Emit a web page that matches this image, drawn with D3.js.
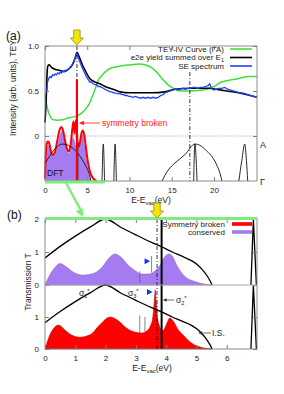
<!DOCTYPE html>
<html><head><meta charset="utf-8">
<script src="https://cdn.jsdelivr.net/npm/d3@7"></script>
<style>body{margin:0;background:#fff}svg{display:block}</style>
</head><body><svg id="c" width="284" height="394"></svg>
<script>
// ---------------- DATA ----------------
// panel (a)
const aTicksX = [0, 5, 10, 15, 20];
const aTicksY = [0, 0.5, 1.0];
const aTickYLabels = ["0", "0.5", "1.0"];
const teyCurve = [[0,0.46],[0.25,0.32],[0.6,0.22],[0.95,0.18],[1.5,0.175],[2.1,0.18],[2.7,0.2],[3.3,0.21],[3.9,0.23],[4.4,0.26],[4.9,0.31],[5.3,0.37],[5.6,0.44],[5.9,0.51],[6.3,0.62],[6.7,0.67],[7.1,0.71],[7.7,0.75],[8.5,0.77],[10,0.79],[11.2,0.8],[12.2,0.78],[13.0,0.73],[13.4,0.69],[13.85,0.64],[14.7,0.56],[15.4,0.52],[16.2,0.5],[17,0.5],[18.6,0.51],[19.8,0.54],[20.9,0.6],[22.5,0.63],[24.1,0.66],[25.1,0.66]];
const e2eCurve = [[0,0.15],[0.12,0.35],[0.25,0.7],[0.35,0.78],[0.5,0.79],[0.8,0.76],[1.2,0.74],[1.7,0.73],[2.2,0.72],[2.6,0.73],[3.0,0.76],[3.3,0.8],[3.55,0.86],[3.8,0.93],[4.0,0.89],[4.3,0.82],[4.8,0.72],[5.3,0.64],[5.9,0.6],[6.5,0.58],[7.1,0.55],[7.7,0.53],[8.3,0.51],[8.9,0.49],[10,0.48],[11.2,0.48],[12.7,0.48],[14.2,0.49],[15.4,0.52],[17.3,0.53],[19.3,0.53],[20.9,0.51],[22.9,0.48],[25.1,0.43]];
const seCurve = [[0.22,0.5],[0.3,0.6],[0.45,0.64],[0.6,0.66],[0.75,0.65],[0.9,0.68],[1.05,0.67],[1.2,0.69],[1.35,0.68],[1.5,0.7],[1.65,0.69],[1.8,0.71],[1.95,0.7],[2.1,0.72],[2.25,0.71],[2.4,0.73],[2.55,0.72],[2.7,0.74],[2.85,0.75],[3.0,0.77],[3.15,0.78],[3.3,0.81],[3.45,0.84],[3.6,0.88],[3.75,0.92],[3.85,0.91],[3.95,0.87],[4.1,0.83],[4.3,0.78],[4.5,0.74],[4.7,0.7],[4.9,0.66],[5.1,0.63],[5.3,0.6],[5.5,0.6],[5.7,0.58],[5.9,0.57],[6.1,0.57],[6.3,0.55],[6.5,0.55],[6.7,0.54],[6.9,0.53],[7.1,0.52],[7.3,0.51],[7.5,0.5],[7.7,0.49],[7.9,0.49],[8.1,0.48],[8.3,0.48],[8.5,0.47],[8.7,0.47],[8.9,0.47],[9.1,0.46],[9.3,0.46],[9.5,0.45],[9.7,0.45],[9.9,0.44],[10.1,0.44],[10.4,0.43],[10.7,0.44],[11.0,0.43],[11.3,0.42],[11.6,0.43],[11.9,0.42],[12.2,0.43],[12.5,0.42],[12.8,0.43],[13.1,0.42],[13.4,0.43],[13.7,0.45],[14.0,0.46],[14.2,0.48],[14.5,0.49],[14.8,0.5],[15.1,0.51],[15.4,0.52],[15.7,0.51],[16.0,0.52],[16.3,0.53],[16.6,0.52],[16.9,0.53],[17.2,0.53],[17.5,0.54],[17.8,0.54],[18.1,0.53],[18.4,0.54],[18.7,0.54],[19.0,0.55],[19.3,0.56],[19.5,0.58],[19.7,0.53],[20.0,0.51],[20.3,0.52],[20.6,0.53],[20.9,0.53],[21.3,0.54],[21.6,0.52],[22.0,0.51],[22.3,0.5],[22.7,0.49],[23.0,0.48],[23.3,0.48],[23.7,0.47],[24.0,0.46],[24.4,0.45],[24.7,0.44],[25.1,0.43]];
const dftPurple = [[0,0],[0.08,0.5],[0.25,0.75],[0.4,0.8],[0.6,0.7],[0.85,0.58],[1.15,0.58],[1.4,0.72],[1.65,0.95],[1.9,1.1],[2.1,1.13],[2.35,0.95],[2.6,0.72],[2.85,0.62],[3.05,0.72],[3.3,0.98],[3.5,0.9],[3.7,0.75],[3.9,0.72],[4.1,0.9],[4.35,1.05],[4.55,1.0],[4.75,0.75],[4.95,0.45],[5.15,0.2],[5.35,0.05],[5.5,0]];
const dftRed = [[0,0.05],[0.08,0.55],[0.2,0.82],[0.35,0.88],[0.5,0.84],[0.7,0.66],[0.9,0.58],[1.15,0.62],[1.4,0.84],[1.65,1.08],[1.9,1.2],[2.1,1.15],[2.35,0.92],[2.6,0.72],[2.85,0.66],[3.05,0.82],[3.25,1.18],[3.38,1.32],[3.5,1.05],[3.62,1.28],[3.72,1.36],[3.85,0.85],[4.0,0.76],[4.15,0.88],[4.35,1.08],[4.5,1.12],[4.7,0.96],[4.9,0.66],[5.1,0.4],[5.3,0.22],[5.55,0.1],[5.8,0.04],[6.1,0]];
const bandLinesA = [
  [[0,0.47],[2.1,1.0],[4.9,0.38],[5.25,0.18],[5.45,0]],
  [[6.75,0],[6.9,1.0],[7.05,0]],
  [[8.15,0],[8.3,1.0],[8.45,0]],
  [[13.85,0],[14.6,0.3],[15.4,0.49],[16.6,0.72],[17.75,1.0],[18.3,0.97],[19.2,0.8],[19.8,0.65],[20.4,0.4],[20.7,0.22],[20.95,0]],
  [[17.6,0],[17.75,1.0],[18.0,0]],
  [[22.95,0],[23.3,0.55],[23.65,1.0],[23.85,0.55],[24.0,0]]
];
const bandVertA = [[3.85,0],[3.85,0.97]];
const peakE = 3.78;       // symmetry broken / arrow energy
const peakE2 = 17.15;     // second dash-dot
const legendA = ["TEY-IV Curve (\u0393\u0304A)", "e2e yield summed over E", "SE spectrum"];
const legendAColors = ["#3fe03a", "#000", "#2040ff"];

// panel (b)
const bTicksX = [0, 1, 2, 3, 4, 5, 6];
const bTicksYUp = [0, 1, 2];
const bTicksYLow = [0, 1];
const consT = [[0,0],[0.1,0.2],[0.3,0.5],[0.5,0.65],[0.7,0.55],[0.95,0.38],[1.25,0.3],[1.6,0.35],[1.9,0.55],[2.1,0.8],[2.3,0.94],[2.5,0.85],[2.75,0.6],[3.0,0.42],[3.2,0.33],[3.4,0.33],[3.6,0.4],[3.8,0.6],[3.95,0.85],[4.1,0.94],[4.2,0.88],[4.35,0.6],[4.5,0.38],[4.7,0.2],[4.9,0.12],[5.1,0.06],[5.3,0.02],[5.5,0]];
const brokT = [[0,0],[0.1,0.3],[0.25,0.6],[0.45,0.75],[0.65,0.6],[0.85,0.45],[1.15,0.37],[1.5,0.45],[1.8,0.75],[2.15,1.0],[2.4,0.9],[2.7,0.65],[3.0,0.52],[3.2,0.5],[3.35,0.56],[3.48,0.72],[3.56,1.0],[3.61,1.5],[3.64,1.85],[3.67,1.5],[3.71,1.0],[3.76,0.78],[3.83,0.62],[3.9,0.58],[4.0,0.75],[4.12,0.97],[4.25,0.85],[4.4,0.6],[4.55,0.45],[4.7,0.3],[4.85,0.18],[5.0,0.1],[5.2,0.04],[5.5,0]];
const isBand = [[0,0.82],[0.5,1.17],[1.0,1.48],[1.5,1.76],[2.0,2.0],[2.5,1.75],[3.0,1.52],[3.5,1.3],[3.85,1.16],[4.2,1.0],[4.5,0.88],[4.85,0.73],[5.05,0.6],[5.2,0.46],[5.35,0.28],[5.45,0.13],[5.52,0]];
const bandB = [[6.8,0],[6.88,2],[6.98,0]];
const spikesUp = [[3.13,0.06,0.41],[3.52,0.38,0.88]];
const spikesLow = [[3.13,0.5,1.05],[3.3,0.55,1.0]];
const markerUp = [3.37, 0.72];
const markerLow = [3.45, 1.78];
const thickLineE = 3.85;
const dashE_B = 3.7;
const legendB = ["Symmetry broken", "conserved"];
const legendBColors = ["#ff0000", "#a57bf2"];

// ---------------- DRAW ----------------
const FONT = '"Liberation Sans", Arial, Helvetica, sans-serif';
const svg = d3.select("#c").style("font-family", FONT);
svg.append("rect").attr("width", 284).attr("height", 394).attr("fill", "#fff");

const xA = d3.scaleLinear().domain([0, 25.1]).range([45, 257]);
const yA = d3.scaleLinear().domain([0, 1]).range([136, 46]);
const yD = d3.scaleLinear().domain([0, 1]).range([181, 136]);
const yK = d3.scaleLinear().domain([0, 1]).range([181, 144]);
const xB = d3.scaleLinear().domain([0, 7]).range([45, 257]);
const yB1 = d3.scaleLinear().domain([0, 2]).range([285, 219]);
const yB2 = d3.scaleLinear().domain([0, 2]).range([349, 285]);

const FR = "#808080";
const TXT = "#222";
const intFmt = d3.format("d");

function styleAxis(g) {
  g.select(".domain").remove();
  g.selectAll(".tick line").attr("stroke", FR);
  g.selectAll(".tick text").attr("fill", TXT).attr("font-size", 8).attr("font-family", FONT);
}

// ---- panel (a) ----
svg.append("line").attr("x1", xA(0)).attr("x2", xA(25.1)).attr("y1", yA(0)).attr("y2", yA(0))
  .attr("stroke", "#888").attr("stroke-width", 0.8).attr("stroke-dasharray", "1,1.5");

svg.append("path").datum(dftPurple)
  .attr("d", d3.area().x(d => xA(d[0])).y0(yD(0)).y1(d => yD(d[1])).curve(d3.curveMonotoneX))
  .attr("fill", "#a57bf2");
svg.append("path").datum(dftRed)
  .attr("d", d3.line().x(d => xA(d[0])).y(d => yD(d[1])).curve(d3.curveMonotoneX))
  .attr("fill", "none").attr("stroke", "#ff0000").attr("stroke-width", 2);

bandLinesA.forEach(b => {
  svg.append("path").datum(b)
    .attr("d", d3.line().x(d => xA(d[0])).y(d => yK(d[1])).curve(d3.curveMonotoneX))
    .attr("fill", "none").attr("stroke", "#111").attr("stroke-width", 0.9);
});
svg.append("path").datum(bandVertA)
  .attr("d", d3.line().x(d => xA(d[0])).y(d => yK(d[1])))
  .attr("stroke", "#111").attr("stroke-width", 1.5);

svg.append("path").datum(teyCurve).attr("d", d3.line().x(d => xA(d[0])).y(d => yA(d[1])).curve(d3.curveMonotoneX)).attr("fill", "none").attr("stroke", "#3fe03a").attr("stroke-width", 1.5);
svg.append("path").datum(e2eCurve).attr("d", d3.line().x(d => xA(d[0])).y(d => yA(d[1])).curve(d3.curveMonotoneX)).attr("fill", "none").attr("stroke", "#000").attr("stroke-width", 1.6);
svg.append("path").datum(seCurve).attr("d", d3.line().x(d => xA(d[0])).y(d => yA(d[1]))).attr("fill", "none").attr("stroke", "#2040ff").attr("stroke-width", 1.3);

svg.append("line").attr("x1", xA(peakE)).attr("x2", xA(peakE)).attr("y1", yA(1)).attr("y2", yK(0))
  .attr("stroke", "#000").attr("stroke-width", 0.8).attr("stroke-dasharray", "4,2,1,2");
svg.append("line").attr("x1", xA(peakE2)).attr("x2", xA(peakE2)).attr("y1", yA(0.71)).attr("y2", yK(0))
  .attr("stroke", "#000").attr("stroke-width", 0.8).attr("stroke-dasharray", "4,2,1,2");
svg.append("line").attr("x1", xA(peakE)).attr("x2", xA(peakE)).attr("y1", yA(0.63)).attr("y2", yK(0))
  .attr("stroke", "#ff0000").attr("stroke-width", 2.2);

svg.append("g").attr("transform", `translate(0,${yK(0)})`)
  .call(d3.axisBottom(xA).tickValues(aTicksX).tickFormat(intFmt).tickSizeInner(-4).tickSizeOuter(0).tickPadding(6)).call(styleAxis);
svg.append("g").attr("transform", `translate(0,${yA(1)})`)
  .call(d3.axisTop(xA).tickValues(aTicksX).tickFormat("").tickSizeInner(-4).tickSizeOuter(0)).call(styleAxis);
svg.append("g").attr("transform", `translate(${xA(0)},0)`)
  .call(d3.axisLeft(yA).tickValues(aTicksY).tickFormat((d, i) => aTickYLabels[i]).tickSizeInner(-4).tickSizeOuter(0).tickPadding(6)).call(styleAxis);
svg.append("g").attr("transform", `translate(${xA(25.1)},0)`)
  .call(d3.axisRight(yA).tickValues(aTicksY).tickFormat("").tickSizeInner(-4).tickSizeOuter(0)).call(styleAxis);
svg.append("rect").attr("x", xA(0)).attr("y", yA(1)).attr("width", xA(25.1) - xA(0)).attr("height", yK(0) - yA(1))
  .attr("fill", "none").attr("stroke", FR).attr("stroke-width", 0.9);

legendA.forEach((t, i) => {
  const y = 49 + i * 8.5;
  const tx = svg.append("text").attr("x", 224).attr("y", y + 2.8).attr("text-anchor", "end")
    .attr("font-size", 8).attr("fill", TXT).text(t);
  if (i === 1) tx.append("tspan").attr("font-size", 5.5).attr("dy", 1.8).text("1");
  svg.append("line").attr("x1", 230).attr("x2", 252).attr("y1", y).attr("y2", y)
    .attr("stroke", legendAColors[i]).attr("stroke-width", 1.6);
});

svg.append("text").attr("x", 6).attr("y", 40).attr("font-size", 12).attr("fill", "#111").text("(a)");
svg.append("text").attr("transform", "translate(16,88) rotate(-90)").attr("text-anchor", "middle")
  .attr("font-size", 8.5).attr("fill", TXT).text("Intensity (arb. units), TEY");
const xlabA = svg.append("text").attr("x", 151).attr("y", 203).attr("text-anchor", "middle").attr("font-size", 8.5).attr("fill", TXT);
xlabA.append("tspan").text("E-E");
xlabA.append("tspan").attr("font-size", 6).attr("dy", 2).text("vac");
xlabA.append("tspan").attr("dy", -2).text("(eV)");
svg.append("text").attr("x", 260).attr("y", 148).attr("font-size", 9).attr("fill", TXT).text("A");
svg.append("text").attr("x", 260).attr("y", 185).attr("font-size", 9).attr("fill", TXT).text("\u0393");
svg.append("text").attr("x", 47).attr("y", 176).attr("font-size", 8.5).attr("fill", "#111").text("DFT");

svg.append("text").attr("x", 102).attr("y", 126).attr("font-size", 8.5).attr("fill", "#ff2020").text("symmetry broken");
svg.append("line").attr("x1", xA(peakE) + 3).attr("x2", 100).attr("y1", 123).attr("y2", 123).attr("stroke", "#ff2020").attr("stroke-width", 0.8);
svg.append("path").attr("d", d3.line()([[xA(peakE) + 2, 123], [xA(peakE) + 7, 120.8], [xA(peakE) + 7, 125.2]]) + "Z").attr("fill", "#ff2020");

function yellowArrow(cx, tipY) {
  const p = d3.path();
  p.moveTo(cx - 3.2, tipY - 15); p.lineTo(cx + 3.2, tipY - 15); p.lineTo(cx + 3.2, tipY - 7);
  p.lineTo(cx + 6.5, tipY - 7); p.lineTo(cx, tipY); p.lineTo(cx - 6.5, tipY - 7); p.lineTo(cx - 3.2, tipY - 7); p.closePath();
  svg.append("path").attr("d", p.toString()).attr("fill", "#f5e60a").attr("stroke", "#8a7d00").attr("stroke-width", 0.7);
}

svg.append("line").attr("x1", xA(0)).attr("x2", xA(7.1)).attr("y1", yK(0) + 1).attr("y2", yK(0) + 1)
  .attr("stroke", "#80ec80").attr("stroke-width", 3);

// ---- panel (b) ----
svg.append("path").datum(consT)
  .attr("d", d3.area().x(d => xB(d[0])).y0(yB1(0)).y1(d => yB1(d[1])).curve(d3.curveMonotoneX))
  .attr("fill", "#a57bf2").attr("stroke", "#7a5aa8").attr("stroke-width", 0.5);
svg.append("path").datum(brokT)
  .attr("d", d3.area().x(d => xB(d[0])).y0(yB2(0)).y1(d => yB2(d[1])).curve(d3.curveMonotoneX))
  .attr("fill", "#ff0000").attr("stroke", "#c00000").attr("stroke-width", 0.5);
spikesUp.forEach(s => svg.append("line").attr("x1", xB(s[0])).attr("x2", xB(s[0])).attr("y1", yB1(s[1])).attr("y2", yB1(s[2])).attr("stroke", "#666").attr("stroke-width", 0.8));
spikesLow.forEach(s => svg.append("line").attr("x1", xB(s[0])).attr("x2", xB(s[0])).attr("y1", yB2(s[1])).attr("y2", yB2(s[2])).attr("stroke", "#666").attr("stroke-width", 0.8));

[yB1, yB2].forEach(ys => {
  svg.append("path").datum(isBand)
    .attr("d", d3.line().x(d => xB(d[0])).y(d => ys(d[1])).curve(d3.curveMonotoneX))
    .attr("fill", "none").attr("stroke", "#000").attr("stroke-width", 1.3);
  svg.append("path").datum(bandB)
    .attr("d", d3.line().x(d => xB(d[0])).y(d => ys(d[1])))
    .attr("fill", "none").attr("stroke", "#000").attr("stroke-width", 1.3);
});

[[markerUp, yB1], [markerLow, yB2]].forEach(([m, ys]) => {
  const cx = xB(m[0]), cy = ys(m[1]);
  svg.append("path").attr("d", d3.line()([[cx - 2.5, cy - 3], [cx + 3, cy], [cx - 2.5, cy + 3]]) + "Z").attr("fill", "#1030ff");
});

svg.append("line").attr("x1", xB(dashE_B)).attr("x2", xB(dashE_B)).attr("y1", yB1(2)).attr("y2", yB2(0))
  .attr("stroke", "#000").attr("stroke-width", 0.8).attr("stroke-dasharray", "4,2,1,2");
svg.append("line").attr("x1", xB(thickLineE)).attr("x2", xB(thickLineE)).attr("y1", yB1(2)).attr("y2", yB2(0))
  .attr("stroke", "#000").attr("stroke-width", 2);

svg.append("g").attr("transform", `translate(0,${yB2(0)})`)
  .call(d3.axisBottom(xB).tickValues(bTicksX).tickFormat(intFmt).tickSizeInner(-4).tickSizeOuter(0).tickPadding(6)).call(styleAxis);
svg.append("g").attr("transform", `translate(0,${yB1(2)})`)
  .call(d3.axisTop(xB).tickValues(bTicksX).tickFormat("").tickSizeInner(-4).tickSizeOuter(0)).call(styleAxis);
svg.append("g").attr("transform", `translate(${xB(0)},0)`)
  .call(d3.axisLeft(yB1).tickValues(bTicksYUp).tickFormat(intFmt).tickSizeInner(-4).tickSizeOuter(0).tickPadding(6)).call(styleAxis);
svg.append("g").attr("transform", `translate(${xB(0)},0)`)
  .call(d3.axisLeft(yB2).tickValues(bTicksYLow).tickFormat(intFmt).tickSizeInner(-4).tickSizeOuter(0).tickPadding(6)).call(styleAxis);
svg.append("g").attr("transform", `translate(${xB(7)},0)`)
  .call(d3.axisRight(yB1).tickValues(bTicksYUp).tickFormat("").tickSizeInner(-4).tickSizeOuter(0)).call(styleAxis);
svg.append("g").attr("transform", `translate(${xB(7)},0)`)
  .call(d3.axisRight(yB2).tickValues(bTicksYLow).tickFormat("").tickSizeInner(-4).tickSizeOuter(0)).call(styleAxis);
svg.append("rect").attr("x", xB(0)).attr("y", yB1(2)).attr("width", xB(7) - xB(0)).attr("height", yB2(0) - yB1(2))
  .attr("fill", "none").attr("stroke", FR).attr("stroke-width", 0.9);
svg.append("line").attr("x1", xB(0)).attr("x2", xB(7)).attr("y1", yB1(0)).attr("y2", yB1(0)).attr("stroke", "#aaa").attr("stroke-width", 1.2);

legendB.forEach((t, i) => {
  const y = 224 + i * 8;
  svg.append("text").attr("x", 225).attr("y", y + 2.8).attr("text-anchor", "end").attr("font-size", 8).attr("fill", TXT).text(t);
  svg.append("rect").attr("x", 232).attr("y", y - 1.8).attr("width", 20).attr("height", 3.6).attr("fill", legendBColors[i]);
});

function sigma(x, y, sub) {
  const t = svg.append("text").attr("x", x).attr("y", y).attr("font-size", 8.5).attr("fill", TXT).text("\u03c3");
  t.append("tspan").attr("font-size", 5.5).attr("dy", 1.8).text(sub);
  t.append("tspan").attr("font-size", 6).attr("dy", -4.5).text("*");
}
sigma(79, 296, "1");
sigma(128, 296, "3");
sigma(176, 303, "2");
svg.append("line").attr("x1", xB(thickLineE) + 2).attr("x2", 174).attr("y1", 300).attr("y2", 300).attr("stroke", "#333").attr("stroke-width", 0.7);
svg.append("path").attr("d", d3.line()([[xB(thickLineE) + 1.5, 300], [xB(thickLineE) + 5, 298.3], [xB(thickLineE) + 5, 301.7]]) + "Z").attr("fill", "#333");
svg.append("text").attr("x", 212).attr("y", 336).attr("font-size", 8.5).attr("fill", TXT).text("I.S.");
svg.append("line").attr("x1", 199).attr("x2", 211).attr("y1", 333).attr("y2", 333).attr("stroke", "#333").attr("stroke-width", 0.7);
svg.append("path").attr("d", d3.line()([[198.5, 333], [202, 331.3], [202, 334.7]]) + "Z").attr("fill", "#333");

svg.append("text").attr("x", 7).attr("y", 219).attr("font-size", 12).attr("fill", "#111").text("(b)");
svg.append("text").attr("transform", "translate(31,282) rotate(-90)").attr("text-anchor", "middle")
  .attr("font-size", 8.5).attr("fill", TXT).text("Transmission T");
const xlabB = svg.append("text").attr("x", 152).attr("y", 371).attr("text-anchor", "middle").attr("font-size", 8.5).attr("fill", TXT);
xlabB.append("tspan").text("E-E");
xlabB.append("tspan").attr("font-size", 6).attr("dy", 2).text("vac");
xlabB.append("tspan").attr("dy", -2).text("(eV)");

svg.append("line").attr("x1", xB(0)).attr("x2", xB(7)).attr("y1", yB1(2) - 0.5).attr("y2", yB1(2) - 0.5)
  .attr("stroke", "#80ec80").attr("stroke-width", 3);
const ax1 = xA(2.5), ay1 = yK(0) + 2, ax2 = xB(1.25), ay2 = yB1(2) - 2;
svg.append("line").attr("x1", ax1).attr("y1", ay1).attr("x2", ax2).attr("y2", ay2 - 3)
  .attr("stroke", "#80ec80").attr("stroke-width", 2.5);
{
  const ang = Math.atan2(ay2 - ay1, ax2 - ax1);
  const L = 8, W = 4;
  const bx = ax2 - L * Math.cos(ang), by = ay2 - L * Math.sin(ang);
  const pts = [[ax2, ay2], [bx + W * Math.sin(ang), by - W * Math.cos(ang)], [bx - W * Math.sin(ang), by + W * Math.cos(ang)]];
  svg.append("path").attr("d", d3.line()(pts) + "Z").attr("fill", "#80ec80");
}

yellowArrow(xA(peakE), yA(1) - 1);
yellowArrow(xB(dashE_B), yB1(2) - 1);
</script></body></html>
